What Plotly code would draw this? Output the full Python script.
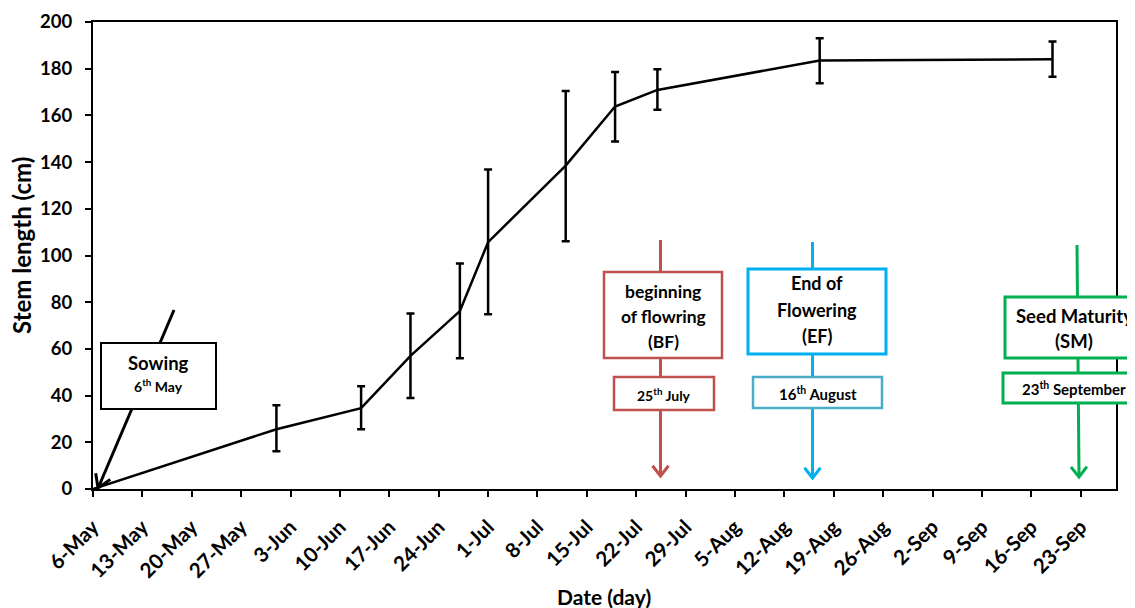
import plotly.graph_objects as go
import numpy as np
import math

# ---------------- data ----------------
dates = ["2013-05-06", "2013-06-01", "2013-06-13", "2013-06-20", "2013-06-27",
         "2013-07-01", "2013-07-12", "2013-07-19", "2013-07-25", "2013-08-17",
         "2013-09-19"]
stem_mean = [0, 25.6, 34.6, 57.0, 76.2, 105.7, 138.5, 163.8, 170.9, 183.5, 184.0]
stem_upper = [np.nan, 35.9, 44.0, 75.2, 96.6, 136.8, 170.5, 178.6, 179.8, 193.0, 191.6]
stem_lower = [np.nan, 16.2, 25.6, 39.0, 56.0, 74.8, 106.1, 148.8, 162.4, 173.8, 176.6]

tick_dates = ["2013-05-06", "2013-05-13", "2013-05-20", "2013-05-27", "2013-06-03",
              "2013-06-10", "2013-06-17", "2013-06-24", "2013-07-01", "2013-07-08",
              "2013-07-15", "2013-07-22", "2013-07-29", "2013-08-05", "2013-08-12",
              "2013-08-19", "2013-08-26", "2013-09-02", "2013-09-09", "2013-09-16",
              "2013-09-23"]
tick_labels = ["6-May", "13-May", "20-May", "27-May", "3-Jun", "10-Jun", "17-Jun",
               "24-Jun", "1-Jul", "8-Jul", "15-Jul", "22-Jul", "29-Jul", "5-Aug",
               "12-Aug", "19-Aug", "26-Aug", "2-Sep", "9-Sep", "16-Sep", "23-Sep"]

# ---------------- geometry (page pixels; page body has an 8px margin) ----------------
W, H = 1135, 608
OFF = 8
PL, PT, PR, PB = 93, 22, 1116, 489          # plot box in page coordinates
PW, PH = PR - PL, PB - PT
ML, MT = PL - OFF, PT - OFF
MR, MB = W - ML - PW, H - MT - PH


def px(x):
    return (x - PL) / PW


def py(y):
    return (PB - y) / PH


mean = np.array(stem_mean, dtype=float)
err_plus = np.array(stem_upper) - mean
err_minus = mean - np.array(stem_lower)

fig = go.Figure()
fig.add_trace(go.Scatter(
    x=dates, y=stem_mean, mode="lines",
    line=dict(color="black", width=2.5),
    error_y=dict(type="data", symmetric=False, array=err_plus, arrayminus=err_minus,
                 color="black", thickness=2.5, width=4),
    showlegend=False, hoverinfo="skip"))

FONT = "Lato, 'Open Sans', sans-serif"
RED, CYAN, TEAL, GREEN = "#C0504D", "#00B0F0", "#4BACC6", "#00B050"

shapes = []
annotations = []


def line_px(x0, y0, x1, y1, color, w=3):
    shapes.append(dict(type="line", xref="paper", yref="paper", layer="above",
                       x0=px(x0), y0=py(y0), x1=px(x1), y1=py(y1),
                       line=dict(color=color, width=w)))


def box_px(x0, x1, y0, y1, color, w=2.5):
    shapes.append(dict(type="rect", xref="paper", yref="paper", layer="above",
                       x0=px(x0), y0=py(y0), x1=px(x1), y1=py(y1),
                       fillcolor="white", line=dict(color=color, width=w)))


def text_px(x, y, t, size, color="black", angle=0):
    annotations.append(dict(xref="paper", yref="paper", x=px(x), y=py(y), text=t,
                            showarrow=False, xanchor="center", yanchor="middle",
                            textangle=angle,
                            font=dict(family=FONT, size=size, color=color, weight="bold")))


def head(tx, ty, fx, fy, color, length=13, spread=38, w=3):
    # chevron arrow head at tip (tx, ty), line coming from (fx, fy)
    ang = math.atan2(fy - ty, fx - tx)
    pts = []
    for s in (-1, 1):
        a = ang + s * math.radians(spread)
        pts.append((tx + length * math.cos(a), ty + length * math.sin(a)))
    path = "M {:.5f},{:.5f} L {:.5f},{:.5f} L {:.5f},{:.5f}".format(
        px(pts[0][0]), py(pts[0][1]), px(tx), py(ty), px(pts[1][0]), py(pts[1][1]))
    shapes.append(dict(type="path", xref="paper", yref="paper", layer="above",
                       path=path, line=dict(color=color, width=w)))


# Axis titles
text_px(604, 596, "Date (day)", 21)
text_px(22, 246, "Stem length (cm)", 24, angle=-90)

# Sowing
line_px(174, 310, 99, 486, "black", 3)
box_px(101, 216, 343, 409, "black", 2)
head(98, 488, 174, 310, "black", length=15, spread=32)
text_px(158.5, 363, "Sowing", 18.5)
text_px(158.5, 385, "6<sup>th</sup> May", 14)

# Beginning of flowering
line_px(660.5, 240, 660.5, 474, RED, 3)
box_px(604, 722, 272, 358, RED, 2.5)
box_px(614, 714, 377, 410, RED, 2.5)
head(660.5, 476, 660.5, 240, RED)
text_px(663, 292, "beginning", 17.5)
text_px(663, 316, "of flowring", 17.5)
text_px(663, 341, "(BF)", 17.5)
text_px(664, 394, "25<sup>th</sup> July", 14)

# End of flowering
line_px(812.5, 242, 812.5, 476, CYAN, 3)
box_px(748, 886, 269, 354, CYAN, 3)
box_px(753, 882, 377, 408, TEAL, 2.5)
head(812.5, 478, 812.5, 242, CYAN)
text_px(817, 283, "End of", 18)
text_px(817, 310, "Flowering", 18)
text_px(817, 336, "(EF)", 18)
text_px(817.5, 393, "16<sup>th</sup> August", 15)

# Seed maturity
line_px(1077, 245, 1079, 475, GREEN, 3)
box_px(1005, 1150, 297, 358, GREEN, 3)
box_px(1003, 1150, 373, 403, GREEN, 3)
head(1079, 477, 1077, 245, GREEN)
text_px(1074, 316, "Seed Maturity", 18.5)
text_px(1074, 341, "(SM)", 18.5)
text_px(1074, 389, "23<sup>th</sup> September", 15)

fig.update_layout(
    width=W, height=H,
    margin=dict(l=ML, r=MR, t=MT, b=MB, autoexpand=False),
    paper_bgcolor="white", plot_bgcolor="white",
    font=dict(family=FONT, color="black"),
    shapes=shapes, annotations=annotations,
    xaxis=dict(type="date", range=["2013-05-06", "2013-09-28"],
               tickvals=tick_dates, ticktext=tick_labels, tickangle=-45,
               tickfont=dict(family=FONT, size=20.5, color="black", weight="bold"),
               ticks="outside", ticklen=6, tickwidth=2, tickcolor="black",
               ticklabelstandoff=10,
               showline=True, linewidth=2, linecolor="black", mirror=True,
               showgrid=False, zeroline=False),
    yaxis=dict(range=[0, 200], dtick=20,
               tickfont=dict(family=FONT, size=18.5, color="black", weight="bold"),
               ticks="outside", ticklen=6, tickwidth=2, tickcolor="black",
               ticklabelstandoff=9,
               showline=True, linewidth=2, linecolor="black", mirror=True,
               showgrid=False, zeroline=False),
)

fig.write_html("out.html")
